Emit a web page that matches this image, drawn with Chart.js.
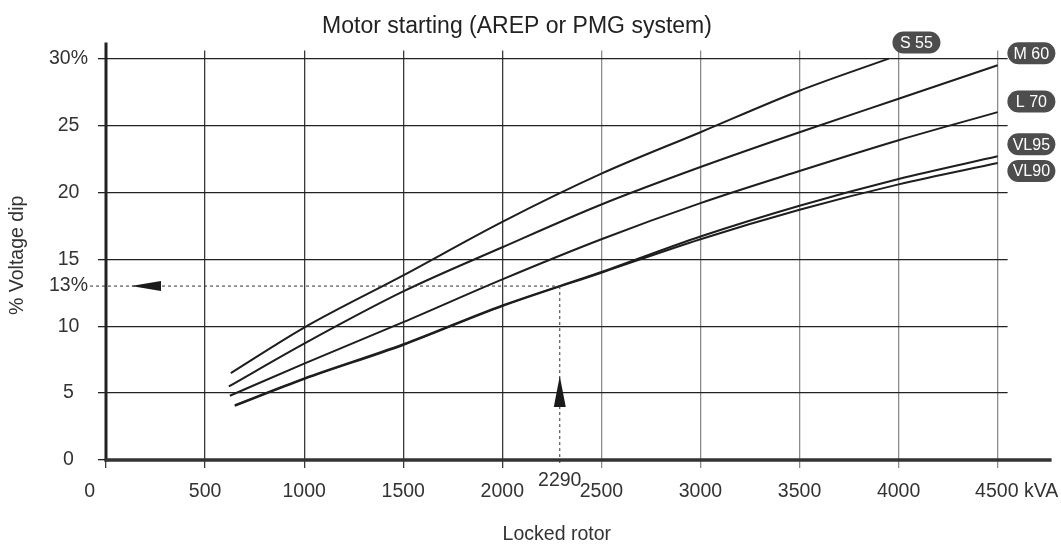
<!DOCTYPE html>
<html>
<head>
<meta charset="utf-8">
<title>Motor starting</title>
<script src="https://cdn.jsdelivr.net/npm/chart.js@4.4.1/dist/chart.umd.min.js"></script>
<style>
  html, body { margin: 0; padding: 0; background: #ffffff; }
  #wrap { width: 1061px; height: 552px; }
</style>
</head>
<body>
<div id="wrap"><canvas id="myChart" width="1061" height="552"></canvas></div>
<script>
// locked rotor kVA / % voltage dip
var kvaS55 = [630, 1000, 1500, 2000, 2500, 3000, 3500, 3950];
var dipS55 = [6.5, 9.9, 13.8, 17.8, 21.4, 24.5, 27.6, 30.0];

var kvaM60 = [620, 1000, 1500, 2000, 2500, 3000, 3500, 4000, 4500];
var dipM60 = [5.5, 8.7, 12.6, 15.9, 19.1, 21.9, 24.5, 27.0, 29.5];

var kvaL70 = [625, 1000, 1500, 2000, 2500, 3000, 3500, 4000, 4500];
var dipL70 = [4.8, 7.2, 10.3, 13.5, 16.5, 19.2, 21.6, 23.9, 26.0];

var kvaVL95 = [650, 1000, 1500, 2000, 2500, 3000, 3500, 4000, 4500];
var dipVL95 = [4.1, 6.1, 8.65, 11.55, 14.05, 16.7, 19.0, 21.0, 22.7];

var kvaVL90 = [650, 1000, 1500, 2000, 2500, 3000, 3500, 4000, 4500];
var dipVL90 = [4.05, 6.05, 8.6, 11.5, 14.0, 16.5, 18.7, 20.6, 22.2];

var seriesNames = ["S 55", "M 60", "L 70", "VL95", "VL90"];
// where each name tag sits, in kVA / % units
var tagKva = [4090, 4670, 4670, 4670, 4670];
var tagDip = [31.2, 30.4, 26.8, 23.6, 21.6];

var ticksX = [0, 500, 1000, 1500, 2000, 2500, 3000, 3500, 4000, 4500];
var ticksY = [0, 5, 10, 13, 15, 20, 25, 30];

// worked example: 2290 kVA gives 13 %
var exampleKva = 2290;
var exampleDip = 13;

var fonte = "'Liberation Sans', Arial, sans-serif";

function pontos(xs, ys) {
  var p = [];
  for (var i = 0; i < xs.length; i++) {
    p.push({ x: xs[i], y: ys[i] });
  }
  return p;
}

function serie(nome, xs, ys) {
  return {
    label: nome,
    data: pontos(xs, ys),
    borderColor: "#1e1e1e",
    borderWidth: 2,
    pointRadius: 0,
    fill: false,
    cubicInterpolationMode: "monotone",
  };
}

function caixaRedonda(ctx, x, y, w, h, r) {
  ctx.beginPath();
  ctx.moveTo(x + r, y);
  ctx.lineTo(x + w - r, y);
  ctx.arc(x + w - r, y + r, r, -Math.PI / 2, Math.PI / 2);
  ctx.lineTo(x + r, y + h);
  ctx.arc(x + r, y + r, r, Math.PI / 2, Math.PI * 1.5);
  ctx.closePath();
}

var extras = {
  id: "extras",
  beforeDatasetsDraw: function (chart) {
    var ctx = chart.ctx;
    var area = chart.chartArea;
    var x0 = chart.scales.x.getPixelForValue(0);
    var y0 = chart.scales.y.getPixelForValue(0);
    ctx.save();
    ctx.strokeStyle = "#222";
    ctx.lineWidth = 3;
    ctx.beginPath();
    ctx.moveTo(x0, area.top - 8);
    ctx.lineTo(x0, y0 + 1.5);
    ctx.stroke();
    ctx.strokeStyle = "#333";
    ctx.lineWidth = 3.5;
    ctx.beginPath();
    ctx.moveTo(x0 - 1.5, y0);
    ctx.lineTo(area.right + 44, y0);
    ctx.stroke();
    ctx.restore();
  },
  afterDatasetsDraw: function (chart) {
    var ctx = chart.ctx;
    var sx = chart.scales.x;
    var sy = chart.scales.y;
    var x0 = sx.getPixelForValue(0);
    var y0 = sy.getPixelForValue(0);
    var xm = sx.getPixelForValue(exampleKva);
    var ym = sy.getPixelForValue(exampleDip);

    ctx.save();
    // dotted guide lines
    ctx.strokeStyle = "#333";
    ctx.lineWidth = 1;
    ctx.setLineDash([3, 3]);
    ctx.beginPath();
    ctx.moveTo(x0 - 16, ym);
    ctx.lineTo(xm, ym);
    ctx.moveTo(xm, ym);
    ctx.lineTo(xm, y0 + 3);
    ctx.stroke();
    ctx.setLineDash([]);

    // arrow heads
    ctx.fillStyle = "#1a1a1a";
    ctx.beginPath();
    ctx.moveTo(x0 + 25, ym);
    ctx.lineTo(x0 + 55, ym - 5);
    ctx.lineTo(x0 + 55, ym + 5);
    ctx.closePath();
    ctx.fill();
    ctx.beginPath();
    ctx.moveTo(xm, y0 - 84);
    ctx.lineTo(xm - 6, y0 - 53);
    ctx.lineTo(xm + 6, y0 - 53);
    ctx.closePath();
    ctx.fill();

    // 2290 label
    ctx.font = "19.5px " + fonte;
    ctx.fillStyle = "#333";
    ctx.textAlign = "center";
    ctx.textBaseline = "middle";
    ctx.fillText(String(exampleKva), xm, y0 + 21);

    // name tags
    ctx.font = "16px " + fonte;
    for (var i = 0; i < seriesNames.length; i++) {
      var px = sx.getPixelForValue(tagKva[i]);
      var py = sy.getPixelForValue(tagDip[i]);
      var w = 48;
      var h = 22;
      ctx.fillStyle = "#4d4d4d";
      caixaRedonda(ctx, px - w / 2, py - h / 2, w, h, h / 2);
      ctx.fill();
      ctx.fillStyle = "#ffffff";
      ctx.fillText(seriesNames[i], px, py + 1);
    }
    ctx.restore();
  },
};

var ctx = document.getElementById("myChart");
var data = {
  datasets: [
    serie(seriesNames[0], kvaS55, dipS55),
    serie(seriesNames[1], kvaM60, dipM60),
    serie(seriesNames[2], kvaL70, dipL70),
    serie(seriesNames[3], kvaVL95, dipVL95),
    serie(seriesNames[4], kvaVL90, dipVL90),
  ],
};

var config = {
  type: "line",
  data,
  plugins: [extras],
  options: {
    responsive: false,
    animation: false,
    layout: { padding: { left: 0, right: 27, top: 0, bottom: 0 } },
    plugins: {
      legend: { display: false },
      tooltip: { enabled: false },
      title: {
        display: true,
        text: "Motor starting (AREP or PMG system)",
        color: "#222",
        font: { family: fonte, size: 23, weight: "normal" },
        padding: { top: 13, bottom: 10 },
      },
    },
    scales: {
      x: {
        type: "linear",
        min: 0,
        max: 4550,
        afterBuildTicks: function (s) {
          s.ticks = ticksX.map(function (v) { return { value: v }; });
        },
        afterFit: function (s) {
          s.height = 92;
          s.paddingLeft = 0;
          s.paddingRight = 53.4;
        },
        border: { display: false },
        grid: {
          color: function (c) {
            return c.tick && c.tick.value > 2000 ? "#8c8c8c" : "#3a3a3a";
          },
          lineWidth: 1.3,
          tickLength: 8,
        },
        ticks: {
          autoSkip: false,
          maxRotation: 0,
          padding: 12,
          color: "#333",
          font: { family: fonte, size: 19.5 },
          callback: function (v) {
            if (v === 0) return "0      ";
            if (v === 4500) return "       4500 kVA";
            return String(v);
          },
        },
        title: {
          display: true,
          text: "Locked rotor",
          color: "#333",
          font: { family: fonte, size: 19.5 },
          padding: { top: 4, bottom: 6 },
        },
      },
      y: {
        min: 0,
        max: 30.6,
        afterBuildTicks: function (s) {
          s.ticks = ticksY.map(function (v) { return { value: v }; });
        },
        afterFit: function (s) { s.width = 106; },
        border: { display: false },
        grid: {
          color: function (c) {
            return c.tick && c.tick.value === exampleDip ? "rgba(0,0,0,0)" : "#222";
          },
          lineWidth: 1.3,
          tickLength: 8,
        },
        ticks: {
          crossAlign: "center",
          padding: 10,
          color: "#333",
          font: { family: fonte, size: 19.5 },
          callback: function (v) {
            return v === 30 || v === exampleDip ? v + "%" : String(v);
          },
        },
        title: {
          display: true,
          text: "% Voltage dip",
          color: "#333",
          font: { family: fonte, size: 19.5 },
          padding: { top: 6 },
        },
      },
    },
  },
};

var myChart = new Chart(ctx, config);
</script>
</body>
</html>
